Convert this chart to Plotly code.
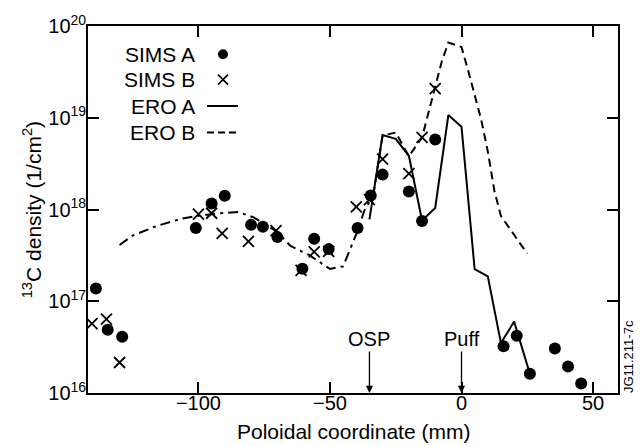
import plotly.graph_objects as go

# SIMS measurements (poloidal coordinate in mm, 13C areal density in 1/cm^2)
sims_a_x = [-139, -134.5, -129, -101, -95, -90, -80, -75.5, -70, -60.5, -56, -50.5,
            -39.5, -34.5, -30, -20, -15, -10, 16, 21, 26, 35.5, 40.5, 45.5]
sims_a_y = [1.38e17, 4.9e16, 4.1e16, 6.3e17, 1.16e18, 1.41e18, 6.8e17, 6.5e17, 5.0e17,
            2.26e17, 4.8e17, 3.7e17, 6.3e17, 1.42e18, 2.4e18, 1.57e18, 7.5e17, 5.8e18,
            3.24e16, 4.2e16, 1.62e16, 3.06e16, 1.94e16, 1.27e16]

sims_b_x = [-140.5, -135, -130, -100, -95, -91, -81, -70.5, -61, -56, -50.5,
            -40, -35, -30, -20, -15, -10]
sims_b_y = [5.7e16, 6.4e16, 2.15e16, 8.9e17, 9.1e17, 5.5e17, 4.5e17, 5.9e17, 2.17e17,
            3.46e17, 3.5e17, 1.07e18, 1.28e18, 3.55e18, 2.46e18, 6.1e18, 2.08e19]

# ERO modelling
ero_a_x = [-35, -30, -25, -20, -15, -10, -5, 0, 5, 10, 15, 20, 26]
ero_a_y = [7.8e17, 6.5e18, 5.9e18, 3.85e18, 7.6e17, 1.04e18, 1.07e19, 8.0e18,
           2.24e17, 1.87e17, 3.5e16, 6.0e16, 1.62e16]

ero_b_x = [-33.5, -30, -25, -20, -15, -10, -7.5, -5, 0, 2.5, 5, 7.5, 10, 12.5, 15, 20, 25]
ero_b_y = [1.45e18, 6.4e18, 6.9e18, 3.8e18, 6.1e18, 2.1e19, 4.1e19, 6.6e19, 5.9e19,
           3.3e19, 1.8e19, 9.5e18, 4.3e18, 1.6e18, 8.5e17, 5.3e17, 3.3e17]

# common ERO profile upstream of the strike point
ero_ab_x = [-130, -125, -116, -106, -99.5, -92, -85, -79, -70, -65, -58, -50, -45,
            -40, -37, -33.5]
ero_ab_y = [4.1e17, 5.2e17, 6.6e17, 8.0e17, 8.6e17, 9.1e17, 9.4e17, 8.2e17, 5.7e17,
            4.0e17, 3.2e17, 2.25e17, 2.4e17, 5.4e17, 9.6e17, 1.45e18]

x_ticks = [-100, -50, 0, 50]
x_tick_text = ["\u2212100", "\u221250", "0", "50"]
y_ticks = [1e16, 1e17, 1e18, 1e19, 1e20]
y_tick_text = ["10<sup>16</sup>", "10<sup>17</sup>", "10<sup>18</sup>",
               "10<sup>19</sup>", "10<sup>20</sup>"]

markers = [("OSP", -35), ("Puff", 0)]
legend_names = ["SIMS A", "SIMS B", "ERO A", "ERO B"]

FONT = "Liberation Sans, Arial, Helvetica, sans-serif"
INK = "black"

fig = go.Figure()

fig.add_trace(go.Scatter(x=ero_ab_x, y=ero_ab_y, mode="lines",
                         line=dict(color=INK, width=2, dash="10px,5px,3px,5px"),
                         showlegend=False))
fig.add_trace(go.Scatter(x=ero_b_x, y=ero_b_y, mode="lines",
                         line=dict(color=INK, width=2, dash="8px,5px"),
                         showlegend=False))
fig.add_trace(go.Scatter(x=ero_a_x, y=ero_a_y, mode="lines",
                         line=dict(color=INK, width=2), showlegend=False))
fig.add_trace(go.Scatter(x=sims_a_x, y=sims_a_y, mode="markers",
                         marker=dict(symbol="circle", size=12, color=INK),
                         showlegend=False))
fig.add_trace(go.Scatter(x=sims_b_x, y=sims_b_y, mode="markers",
                         marker=dict(symbol="x-thin", size=11,
                                     line=dict(color=INK, width=1.8)),
                         showlegend=False))

# legend keys drawn on an overlay axis in [0, 1] units, text to the left
lx_text, lx_key = 0.2057, 0.2547
ly = [0.923, 0.854, 0.782, 0.710]
seg = [0.2245, 0.283]
fig.add_trace(go.Scatter(x=[lx_key], y=[ly[0]], xaxis="x2", yaxis="y2", mode="markers",
                         marker=dict(symbol="circle", size=10, color=INK),
                         showlegend=False, hoverinfo="skip"))
fig.add_trace(go.Scatter(x=[lx_key], y=[ly[1]], xaxis="x2", yaxis="y2", mode="markers",
                         marker=dict(symbol="x-thin", size=10,
                                     line=dict(color=INK, width=1.6)),
                         showlegend=False, hoverinfo="skip"))
fig.add_trace(go.Scatter(x=seg, y=[ly[2], ly[2]], xaxis="x2", yaxis="y2", mode="lines",
                         line=dict(color=INK, width=2),
                         showlegend=False, hoverinfo="skip"))
fig.add_trace(go.Scatter(x=seg, y=[ly[3], ly[3]], xaxis="x2", yaxis="y2", mode="lines",
                         line=dict(color=INK, width=2, dash="7px,4px"),
                         showlegend=False, hoverinfo="skip"))

annotations = []
for name, yy in zip(legend_names, ly):
    annotations.append(dict(text=name, x=lx_text, y=yy, xref="paper", yref="paper",
                            xanchor="right", yanchor="middle", showarrow=False,
                            font=dict(family=FONT, size=21, color=INK)))
for label, xpos in markers:
    annotations.append(dict(text=label, x=xpos, y=16, xref="x", yref="y",
                            showarrow=True, ax=0, ay=-54, arrowhead=2, arrowsize=1.1,
                            arrowwidth=1.3, arrowcolor=INK, standoff=0,
                            font=dict(family=FONT, size=20, color=INK)))
annotations.append(dict(text="<sup>13</sup>C density (1/cm<sup>2</sup>)",
                        x=-0.106, y=0.5, xref="paper", yref="paper", textangle=-90,
                        xanchor="center", yanchor="middle", showarrow=False,
                        font=dict(family=FONT, size=21, color=INK)))
annotations.append(dict(text="Poloidal coordinate (mm)", x=0.5, y=-0.106,
                        xref="paper", yref="paper", xanchor="center", yanchor="middle",
                        showarrow=False, font=dict(family=FONT, size=21, color=INK)))
annotations.append(dict(text="JG11.211-7c", x=1.019, y=0.098, xref="paper", yref="paper",
                        textangle=-90, xanchor="center", yanchor="middle",
                        showarrow=False, font=dict(family=FONT, size=13, color=INK)))

axis_common = dict(showline=True, linecolor=INK, linewidth=1.8, mirror="ticks",
                   ticks="inside", ticklen=11, tickwidth=1.5, tickcolor=INK,
                   showgrid=False, zeroline=False,
                   tickfont=dict(family=FONT, size=20, color=INK))

fig.update_layout(
    width=640, height=446,
    margin=dict(l=88, r=22, t=17, b=53),
    paper_bgcolor="white", plot_bgcolor="white",
    showlegend=False,
    xaxis=dict(range=[-142, 59.5], tickvals=x_ticks, ticktext=x_tick_text,
               ticklabelstandoff=-9, **axis_common),
    yaxis=dict(type="log", range=[16, 20], tickvals=y_ticks, ticktext=y_tick_text,
               ticklabelstandoff=-4, **axis_common),
    xaxis2=dict(overlaying="x", range=[0, 1], visible=False, fixedrange=True),
    yaxis2=dict(overlaying="y", range=[0, 1], visible=False, fixedrange=True),
    annotations=annotations,
)

fig.write_html("out.html")
